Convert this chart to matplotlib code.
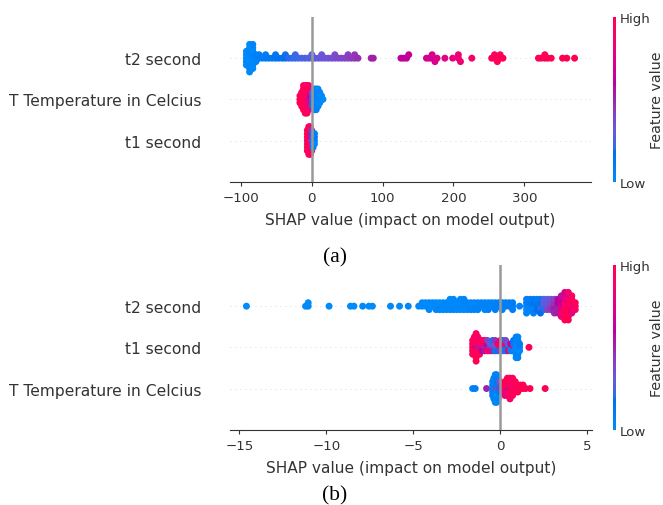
import numpy as np
import matplotlib
matplotlib.use("Agg")
import matplotlib.pyplot as plt
from matplotlib.colors import LinearSegmentedColormap, Normalize
from matplotlib.cm import ScalarMappable

# ---- data: SHAP value positions and the
# ---- normalised feature values of the samples stacked at each position

# (a) t2 second
t2_a_pos = [-92, -87.5, -83, -78.5, -74, -69.5, -64.9, -60.2, -55.6, -50.9, -46.3,
            -41.6, -37, -32.3, -27.7, -23, -18.4, -13.7, -9.1, -4.4, 0.3, 4.9, 9.6,
            14.2, 18.9, 23.5, 28.2, 32.8, 37.5, 42.1, 46.8, 51.4, 56.1, 60.7, 65.4,
            84, 87, 126, 130, 134, 137, 162, 166, 170, 174, 177, 188, 199, 207, 210,
            226, 254, 258, 262, 266, 270, 320, 324, 329, 333, 338, 354, 360, 371]
t2_a_feat = [[0.02, 0.0, 0.04, 0.01, 0.03],
             [0.01, 0.03, 0.0, 0.05, 0.02, 0.01, 0.04, 0.0, 0.03],
             [0.02, 0.04, 0.0, 0.03, 0.05, 0.01, 0.02, 0.04],
             [0.05, 0.07, 0.04], [0.07, 0.08],
             [0.09], [0.1, 0.11], [0.12], [0.13], [0.14, 0.15], [0.16], [0.17],
             [0.18, 0.19], [0.2], [0.21], [0.22, 0.22], [0.23], [0.24], [0.25],
             [0.26], [0.27, 0.28], [0.29], [0.3], [0.31, 0.32], [0.33], [0.34],
             [0.35], [0.36, 0.37], [0.38], [0.39], [0.4], [0.41, 0.42], [0.43],
             [0.44, 0.45], [0.47],
             [0.5], [0.52], [0.6], [0.62], [0.63], [0.64],
             [0.68], [0.69], [0.7, 0.71], [0.72], [0.72], [0.76], [0.8], [0.82, 0.83],
             [0.84], [0.88], [0.95], [0.96, 0.95], [0.96], [0.97, 0.96], [0.97],
             [0.98], [0.99], [0.99, 0.98], [1.0], [0.99], [1.0], [1.0], [1.0]]

# (a) T Temperature in Celcius
temp_a_pos = [-16.5, -14, -11.5, -9, -6.5, -4, -1.5, 1.5, 4, 6.5, 9, 11.5, 14, 16]
temp_a_feat = [[1.0, 0.95, 0.98],
               [0.97, 1.0, 0.93, 0.99, 0.96],
               [0.95, 0.98, 1.0, 0.92, 0.97, 0.99, 0.94, 0.96],
               [0.9, 0.97, 0.99, 0.95, 1.0, 0.93, 0.98, 0.96, 0.92],
               [0.85, 0.95, 0.9, 0.98, 0.93, 1.0, 0.96, 0.91, 0.97],
               [0.7, 0.9, 0.85, 0.95, 0.92, 0.97, 0.88, 0.94],
               [0.55, 0.6, 0.75, 0.8, 0.85, 0.9],
               [0.3, 0.2, 0.15, 0.25, 0.1],
               [0.08, 0.12, 0.05, 0.1, 0.03, 0.07, 0.1],
               [0.04, 0.06, 0.02, 0.08, 0.05, 0.03, 0.07],
               [0.03, 0.05, 0.02, 0.04, 0.06, 0.01],
               [0.02, 0.04, 0.01, 0.03], [0.01, 0.02], [0.0]]

# (a) t1 second
t1_a_pos = [-6, -4, -2, 0, 2, 4]
t1_a_feat = [[0.95, 1.0, 0.92, 0.98, 0.97, 0.93, 0.99],
             [0.9, 0.97, 1.0, 0.94, 0.98, 0.96, 0.92, 0.99, 0.95],
             [0.88, 0.95, 0.9, 0.98, 0.93, 1.0, 0.91, 0.96, 0.94],
             [0.35, 0.55, 0.85, 0.5, 0.9, 0.45, 0.95],
             [0.1, 0.3, 0.05, 0.2, 0.08],
             [0.05, 0.12, 0.03, 0.08]]

# (b) t2 second
t2_b_pos = [-14.6, -11.2, -11.05, -9.85, -8.62, -8.42, -7.92, -7.56, -7.36, -6.32,
            -5.8, -5.3, -4.7, -4.5, -4.3, -4.1, -3.9, -3.7, -3.5, -3.3, -3.1, -2.9,
            -2.7, -2.5, -2.3, -2.1, -1.9, -1.7, -1.5, -1.3, -1.1, -0.9, -0.7, -0.5,
            -0.3, -0.1, 0.1, 0.3, 0.5, 0.7, 1.1, 1.5, 1.7, 1.9, 2.1, 2.3, 2.5, 2.7,
            2.9, 3.1, 3.3, 3.5, 3.7, 3.9, 4.1, 4.3]
t2_b_feat = [[0.0], [0.01], [0.02, 0.0], [0.0], [0.01], [0.0], [0.02], [0.01], [0.0],
             [0.02], [0.01], [0.02],
             [0.02], [0.01, 0.03], [0.02, 0.0], [0.03, 0.01, 0.02], [0.0, 0.02],
             [0.01, 0.03, 0.02], [0.02, 0.0, 0.04], [0.03, 0.01, 0.02],
             [0.02, 0.04, 0.01], [0.01, 0.02, 0.03, 0.0],
             [0.03, 0.02, 0.04, 0.01], [0.02, 0.03, 0.01],
             [0.04, 0.02, 0.03, 0.01], [0.03, 0.05, 0.02, 0.04],
             [0.02, 0.04, 0.03], [0.04, 0.03, 0.05], [0.03, 0.05, 0.04],
             [0.05, 0.04, 0.06], [0.04, 0.06], [0.05, 0.06, 0.04], [0.06, 0.05, 0.07],
             [0.05, 0.07], [0.07, 0.06, 0.08], [0.06, 0.08], [0.08, 0.07, 0.09],
             [0.07, 0.09], [0.09, 0.08], [0.08, 0.1, 0.09], [0.05],
             [0.05, 0.1, 0.02, 0.08, 0.04], [0.08, 0.12, 0.05, 0.1],
             [0.1, 0.15, 0.06, 0.12, 0.08], [0.15, 0.12, 0.18, 0.1],
             [0.2, 0.15, 0.22, 0.12, 0.18], [0.25, 0.3, 0.2, 0.28],
             [0.35, 0.3, 0.4, 0.28], [0.42, 0.38, 0.45, 0.35],
             [0.5, 0.45, 0.55, 0.4, 0.48], [0.55, 0.6, 0.5, 0.62, 0.52],
             [0.7, 0.65, 0.75, 0.6, 0.8, 0.55, 0.85],
             [0.85, 0.9, 0.95, 0.8, 1.0, 0.75, 0.92, 0.7, 0.97],
             [0.95, 0.9, 1.0, 0.85, 0.97, 0.8, 0.98, 0.88, 1.0],
             [0.9, 0.95, 0.85, 1.0, 0.8, 0.92], [0.88, 0.95, 0.9]]

# (b) t1 second
t1_b_pos = [-1.6, -1.5, -1.4, -1.3, -1.2, -1.05, -0.9, -0.75, -0.6, -0.45, -0.3,
            -0.15, 0.0, 0.15, 0.3, 0.45, 0.6, 0.75, 0.9, 1.0, 1.1, 1.64]
t1_b_feat = [[1.0, 0.95, 0.98, 0.9, 0.97],
             [0.95, 1.0, 0.9, 0.97, 0.93, 0.99],
             [0.6, 0.95, 1.0, 0.9, 0.98, 0.93, 0.97, 0.96, 1.0],
             [0.5, 0.9, 0.97, 0.95, 1.0, 0.92],
             [0.55, 0.9, 0.95, 0.85, 0.98],
             [0.5, 0.9, 0.6, 0.95], [0.45, 0.85, 0.55, 0.92], [0.5, 0.6, 0.9, 0.4],
             [0.45, 0.3, 0.85], [0.4, 0.25, 0.5, 0.2], [0.35, 0.3, 0.2, 0.45],
             [0.3, 0.9, 0.15], [0.9, 0.95, 0.4, 0.85], [0.5, 0.95, 0.3, 0.1],
             [0.2, 0.9, 0.1, 0.4], [0.15, 0.3, 0.85], [0.1, 0.6, 0.05],
             [0.9, 0.2, 0.05, 0.1],
             [0.02, 0.05, 0.0, 0.08, 0.03, 0.06, 0.01],
             [0.03, 0.0, 0.06, 0.02, 0.07, 0.04, 0.05],
             [0.05, 0.1, 0.02], [1.0]]

# (b) T Temperature in Celcius
temp_b_pos = [-1.6, -1.45, -0.8, -0.45, -0.38, -0.3, -0.22, -0.14, -0.06, 0.1, 0.25,
              0.4, 0.55, 0.7, 0.85, 1.0, 1.15, 1.3, 1.45, 1.7, 2.57]
temp_b_feat = [[0.05], [0.08], [0.5],
               [0.1, 0.05, 0.15, 0.02, 0.08],
               [0.05, 0.1, 0.02, 0.12, 0.04, 0.08, 0.0],
               [0.3, 0.05, 0.1, 0.02, 0.08, 0.0, 0.12, 0.04, 0.06],
               [0.4, 0.08, 0.05, 0.1, 0.02, 0.12, 0.0, 0.06, 0.03],
               [0.35, 0.1, 0.05, 0.15, 0.02, 0.08, 0.04],
               [0.45, 0.2, 0.1, 0.3], [0.6, 0.85, 0.5],
               [0.9, 0.95, 0.85, 1.0, 0.8],
               [0.7, 0.95, 0.9, 1.0, 0.85, 0.97],
               [0.55, 0.9, 1.0, 0.95, 0.85, 0.98, 0.92],
               [0.95, 0.9, 1.0, 0.88, 0.97, 0.93],
               [0.95, 1.0, 0.9, 0.97], [0.98, 0.92, 1.0], [0.95, 1.0], [1.0, 0.97],
               [0.98], [1.0], [1.0]]

labels_a = ["t1 second", "T Temperature in Celcius", "t2 second"]
labels_b = ["T Temperature in Celcius", "t1 second", "t2 second"]
xticks_a = [-100, 0, 100, 200, 300]
xticks_b = [-15, -10, -5, 0, 5]
xlabel = "SHAP value (impact on model output)"
TXT = "#333333"


def shap_red_blue():
    # SHAP's red_blue map: a walk through LCh space from blue to red
    n = 100
    l = np.r_[np.linspace(54., 40., n // 2), np.linspace(40., 54., n // 2)]
    c = np.linspace(70., 90., n)
    h = np.linspace(4.6588, 0.35470565 + 2 * np.pi, n)
    a, b = c * np.cos(h), c * np.sin(h)
    fy = (l + 16) / 116
    fx, fz = fy + a / 500, fy - b / 200
    finv = lambda t: np.where(t > 6 / 29, t ** 3, 3 * (6 / 29) ** 2 * (t - 4 / 29))
    X, Y, Z = 0.95047 * finv(fx), finv(fy), 1.08883 * finv(fz)
    rgb = np.stack([3.2406 * X - 1.5372 * Y - 0.4986 * Z,
                    -0.9689 * X + 1.8758 * Y + 0.0415 * Z,
                    0.0557 * X - 0.2040 * Y + 1.0570 * Z], axis=1)
    pos = np.clip(rgb, 0, None)
    rgb = np.where(rgb > 0.0031308, 1.055 * pos ** (1 / 2.4) - 0.055, 12.92 * rgb)
    return LinearSegmentedColormap.from_list("red_blue", np.clip(rgb, 0, 1))


cmap = shap_red_blue()


def swarm(shaps, nbins=100, row_height=0.4):
    # beeswarm offsets, same binning idea as shap.summary_plot
    quant = np.round(nbins * (shaps - shaps.min()) / (shaps.max() - shaps.min() + 1e-8))
    ys = np.zeros(len(shaps))
    layer, last = 0, -1
    for i in np.argsort(quant, kind="stable"):
        if quant[i] != last:
            layer = 0
        ys[i] = np.ceil(layer / 2) * ((layer % 2) * 2 - 1)
        layer += 1
        last = quant[i]
    return ys * 0.9 * row_height / (np.max(ys) + 0.3)


def panel(ax, cax, rows, names, xticks):
    for y, (pos, feats) in enumerate(rows):
        shaps = np.repeat(np.asarray(pos, float), [len(f) for f in feats])
        vals = np.concatenate([np.asarray(f, float) for f in feats])
        ax.axhline(y, color="#cccccc", lw=0.6, dashes=(1, 5), zorder=-1)
        ax.scatter(shaps, y + swarm(shaps), c=vals, cmap=cmap, vmin=0, vmax=1,
                   s=25, linewidth=0, zorder=3)
    ax.axvline(0, color="#999999", lw=1.8, zorder=4)
    ax.set_ylim(-1, len(rows))
    ax.set_yticks(range(len(rows)))
    ax.set_yticklabels(names)
    ax.set_xticks(xticks)
    for s in ["top", "right", "left"]:
        ax.spines[s].set_visible(False)
    ax.spines["bottom"].set_color(TXT)
    ax.tick_params("y", length=0, pad=20.5, labelsize=11.2, labelcolor=TXT)
    ax.tick_params("x", length=3, labelsize=9.6, color=TXT, labelcolor=TXT)
    ax.set_xlabel(xlabel, fontsize=11.1, color=TXT, labelpad=6)

    cb = fig.colorbar(ScalarMappable(norm=Normalize(0, 1), cmap=cmap), cax=cax, ticks=[0, 1])
    cb.set_ticklabels(["Low", "High"])
    cb.outline.set_visible(False)
    cb.ax.tick_params(length=0, labelsize=9.6, pad=3, labelcolor=TXT)
    cb.set_label("Feature value", size=10.3, labelpad=0, color=TXT)


W, H = 663, 506
fig = plt.figure(figsize=(W / 100, H / 100), dpi=100)
ax_a = fig.add_axes([230 / W, 1 - 182.7 / H, 361 / W, 164.7 / H])
cax_a = fig.add_axes([613 / W, 1 - 182.7 / H, 2.5 / W, 164.7 / H])
ax_b = fig.add_axes([230 / W, 1 - 430.7 / H, 361.7 / W, 164.7 / H])
cax_b = fig.add_axes([613 / W, 1 - 430.7 / H, 2.5 / W, 164.7 / H])

panel(ax_a, cax_a, [(t1_a_pos, t1_a_feat), (temp_a_pos, temp_a_feat), (t2_a_pos, t2_a_feat)],
      labels_a, xticks_a)
panel(ax_b, cax_b, [(temp_b_pos, temp_b_feat), (t1_b_pos, t1_b_feat), (t2_b_pos, t2_b_feat)],
      labels_b, xticks_b)

fig.text(335 / W, 1 - 258 / H, "(a)", family="Liberation Serif", fontsize=15.5, ha="center", va="center")
fig.text(335 / W, 1 - 496 / H, "(b)", family="Liberation Serif", fontsize=15.5, ha="center", va="center")

fig.savefig("out.png", dpi=100)
plt.close(fig)
